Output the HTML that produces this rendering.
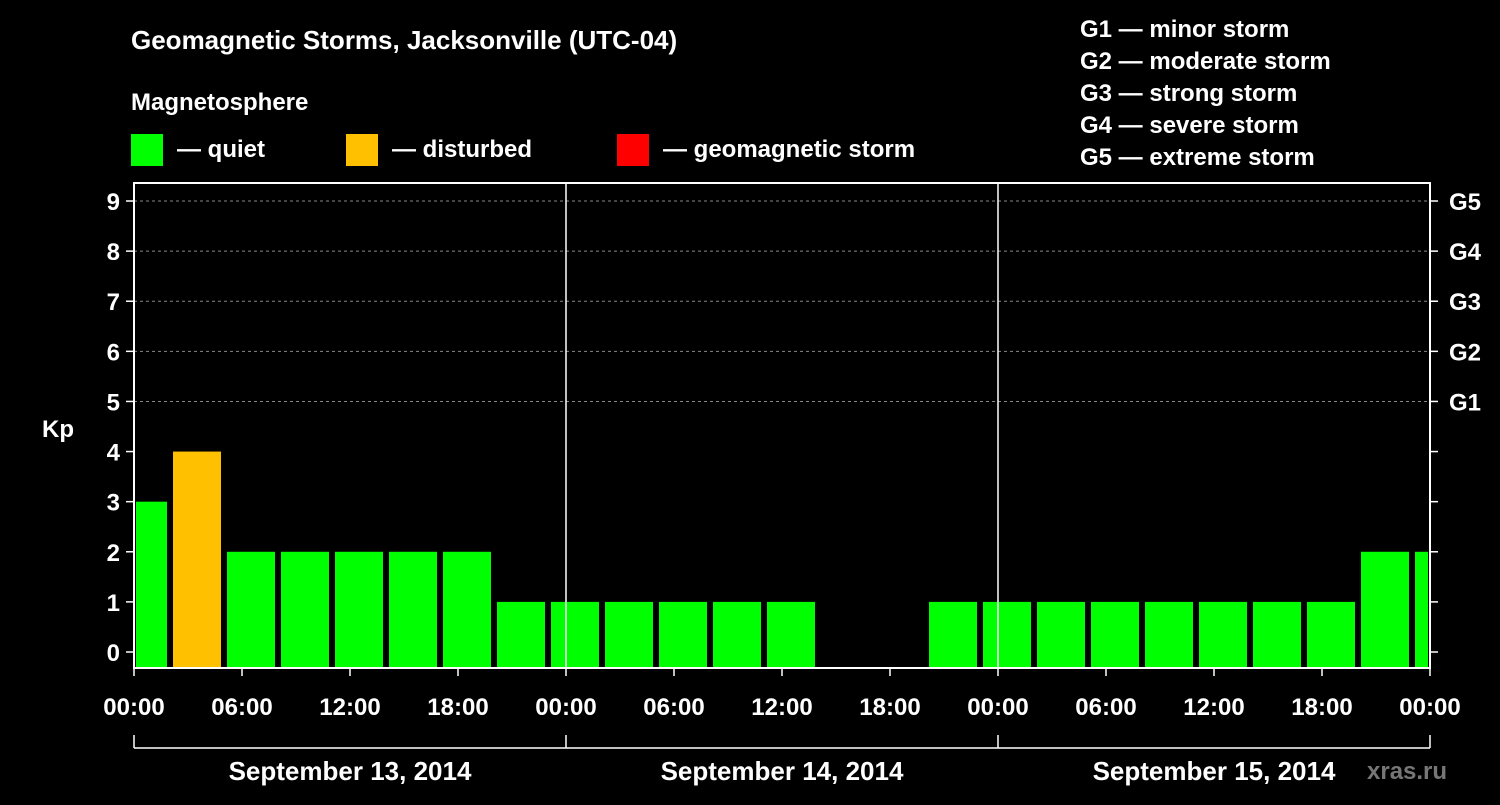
<!DOCTYPE html>
<html><head><meta charset="utf-8"><style>
body{margin:0;background:#000;width:1500px;height:800px;overflow:hidden}
svg text{font-family:"Liberation Sans",Arial,sans-serif;font-weight:bold;fill:#fff}
</style></head><body>
<svg id="chart" width="1500" height="800" xmlns="http://www.w3.org/2000/svg">
<text x="131" y="49" font-size="26">Geomagnetic Storms, Jacksonville (UTC-04)</text>
<text x="131" y="110" font-size="24">Magnetosphere</text>
<rect x="131" y="134" width="32" height="32" fill="#00ff00"/>
<text x="177" y="157" font-size="24">— quiet</text>
<rect x="346" y="134" width="32" height="32" fill="#ffc000"/>
<text x="392" y="157" font-size="24">— disturbed</text>
<rect x="617" y="134" width="32" height="32" fill="#ff0000"/>
<text x="663" y="157" font-size="24">— geomagnetic storm</text>
<g font-size="24">
<text x="1080" y="37">G1 — minor storm</text>
<text x="1080" y="69">G2 — moderate storm</text>
<text x="1080" y="101">G3 — strong storm</text>
<text x="1080" y="133">G4 — severe storm</text>
<text x="1080" y="165">G5 — extreme storm</text>
</g>
<text x="42" y="437" font-size="24">Kp</text>
<text x="1367" y="779" font-size="24" fill="#777" style="fill:#777">xras.ru</text>
<g id="plot"></g>
</svg>
<script>
const kpValues=[3,4,2,2,2,2,2,1,1,1,1,1,1,null,null,1,1,1,1,1,1,1,1,2,2];
const binStartHour=-1; // first bin starts 23:00 previous day (local)
const yTicks=[0,1,2,3,4,5,6,7,8,9];
const gLabels=["G1","G2","G3","G4","G5"];
const xTickLabels=["00:00","06:00","12:00","18:00","00:00","06:00","12:00","18:00","00:00","06:00","12:00","18:00","00:00"];
const dayLabels=["September 13, 2014","September 14, 2014","September 15, 2014"];

const NS="http://www.w3.org/2000/svg";
const L=134,R=1430,T=183,B=668;
const xs=h=>L+(R-L)*h/72;
const ys=v=>652-50.11*v;
const g=document.getElementById('plot');
function mk(t,a,txt){const e=document.createElementNS(NS,t);for(const k in a)e.setAttribute(k,a[k]);if(txt!=null)e.textContent=txt;g.appendChild(e);return e;}
// grid
for(let v=5;v<=9;v++){const e=mk('line',{x1:L,x2:R,y1:ys(v),y2:ys(v),stroke:'#888','stroke-dasharray':'3,3','stroke-width':1});

}
// bars
kpValues.forEach((v,i)=>{if(v==null)return;
 let h0=binStartHour+i*3,h1=h0+3;
 let x0=Math.max(xs(h0)+3,L+2),x1=Math.min(xs(h1)-3,R-2);
 const c=v>=5?'#ff0000':(v>=4?'#ffc000':'#00ff00');
 const e=mk('rect',{x:x0,y:ys(v),width:x1-x0,height:B-ys(v),fill:c});
 
 });
// day separators
[24,48].forEach(h=>{const e=mk('line',{x1:xs(h),x2:xs(h),y1:T,y2:B,stroke:'#fff','stroke-width':1.5});

});
// frame
const f=mk('rect',{x:L,y:T,width:R-L,height:B-T,fill:'none',stroke:'#fff','stroke-width':2});


// y ticks
yTicks.forEach(v=>{const y=ys(v);
 mk('line',{x1:L-8,x2:L,y1:y,y2:y,stroke:'#fff','stroke-width':1.5});
 mk('line',{x1:R,x2:R+8,y1:y,y2:y,stroke:'#fff','stroke-width':1.5});
 const t=mk('text',{x:L-14,y:y+9,'font-size':24,'text-anchor':'end'},String(v));
 
 });
gLabels.forEach((s,i)=>{const t=mk('text',{x:R+19,y:ys(5+i)+9,'font-size':24},s);
 
 });
// x ticks
xTickLabels.forEach((s,i)=>{const x=xs(i*6);
 mk('line',{x1:x,x2:x,y1:B,y2:B+8,stroke:'#fff','stroke-width':1.5});
 const t=mk('text',{x:x,y:715,'font-size':24,'text-anchor':'middle'},s);
 
 });
// day bracket
mk('line',{x1:L,x2:R,y1:748,y2:748,stroke:'#fff','stroke-width':1.5});
for(let d=0;d<=3;d++)mk('line',{x1:xs(d*24),x2:xs(d*24),y1:735,y2:748,stroke:'#fff','stroke-width':1.5});
dayLabels.forEach((s,i)=>{const t=mk('text',{x:xs(i*24+12),y:780,'font-size':26,'text-anchor':'middle'},s);
 
 });
</script>
</body></html>
